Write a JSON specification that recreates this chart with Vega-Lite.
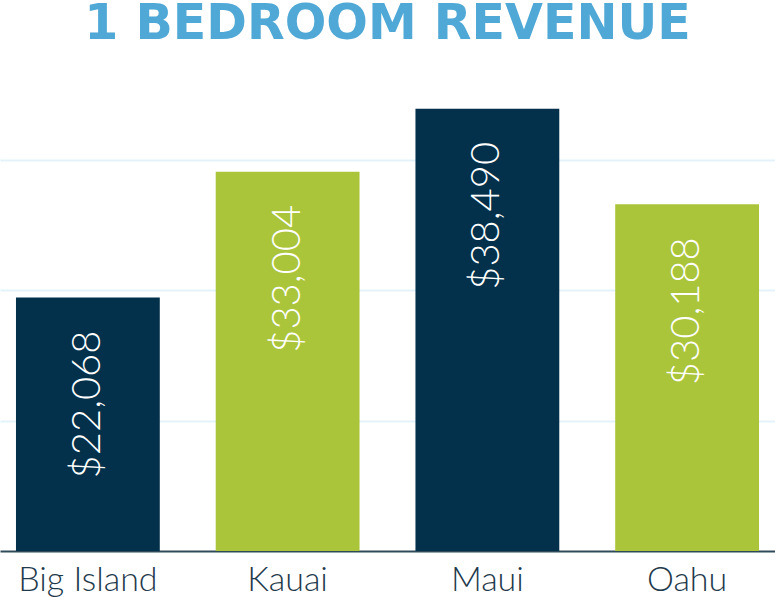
{
  "$schema": "https://vega.github.io/schema/vega-lite/v6.json",
  "autosize": {"type": "fit", "contains": "padding"},
  "width": 775,
  "height": 597,
  "padding": {"top": 0, "left": 0, "right": 0, "bottom": 0},
  "background": "white",
  "title": {
    "text": "1 BEDROOM REVENUE",
    "font": "DejaVu Sans",
    "fontSize": 49,
    "fontWeight": "bold",
    "color": "#4fa8d5",
    "anchor": "middle",
    "frame": "group",
    "baseline": "top",
    "offset": 21
  },
  "data": {
    "values": [
      {"island": "Big Island", "revenue": 22068, "group": "a"},
      {"island": "Kauai", "revenue": 33004, "group": "b"},
      {"island": "Maui", "revenue": 38490, "group": "a"},
      {"island": "Oahu", "revenue": 30188, "group": "b"}
    ]
  },
  "config": {"view": {"stroke": null}},
  "encoding": {
    "x": {
      "field": "island",
      "type": "nominal",
      "sort": null,
      "title": null,
      "scale": {"paddingInner": 0.28, "paddingOuter": 0.08},
      "axis": {
        "labelAngle": 0,
        "labelFont": "Lato",
        "labelFontWeight": 300,
        "labelFontSize": 34,
        "labelColor": "#1f3a4c",
        "labelPadding": 12,
        "ticks": false,
        "domainColor": "#2e4a5a",
        "domainWidth": 2
      }
    },
    "y": {
      "field": "revenue",
      "type": "quantitative",
      "title": null,
      "scale": {"domain": [0, 41870], "nice": false},
      "axis": {
        "values": [11340, 22680, 34020],
        "labels": false,
        "ticks": false,
        "domain": false,
        "gridColor": "#e4f3fb",
        "gridWidth": 2
      }
    }
  },
  "layer": [
    {
      "mark": {"type": "bar"},
      "encoding": {
        "color": {
          "field": "group",
          "type": "nominal",
          "scale": {"domain": ["a", "b"], "range": ["#03304a", "#abc53a"]},
          "legend": null
        }
      }
    },
    {
      "mark": {
        "type": "text",
        "angle": 270,
        "align": "right",
        "baseline": "middle",
        "dx": -33,
        "font": "Lato",
        "fontWeight": 300,
        "fontSize": 40,
        "color": "white"
      },
      "encoding": {
        "text": {"field": "revenue", "type": "quantitative", "format": "$,d"}
      }
    }
  ]
}
